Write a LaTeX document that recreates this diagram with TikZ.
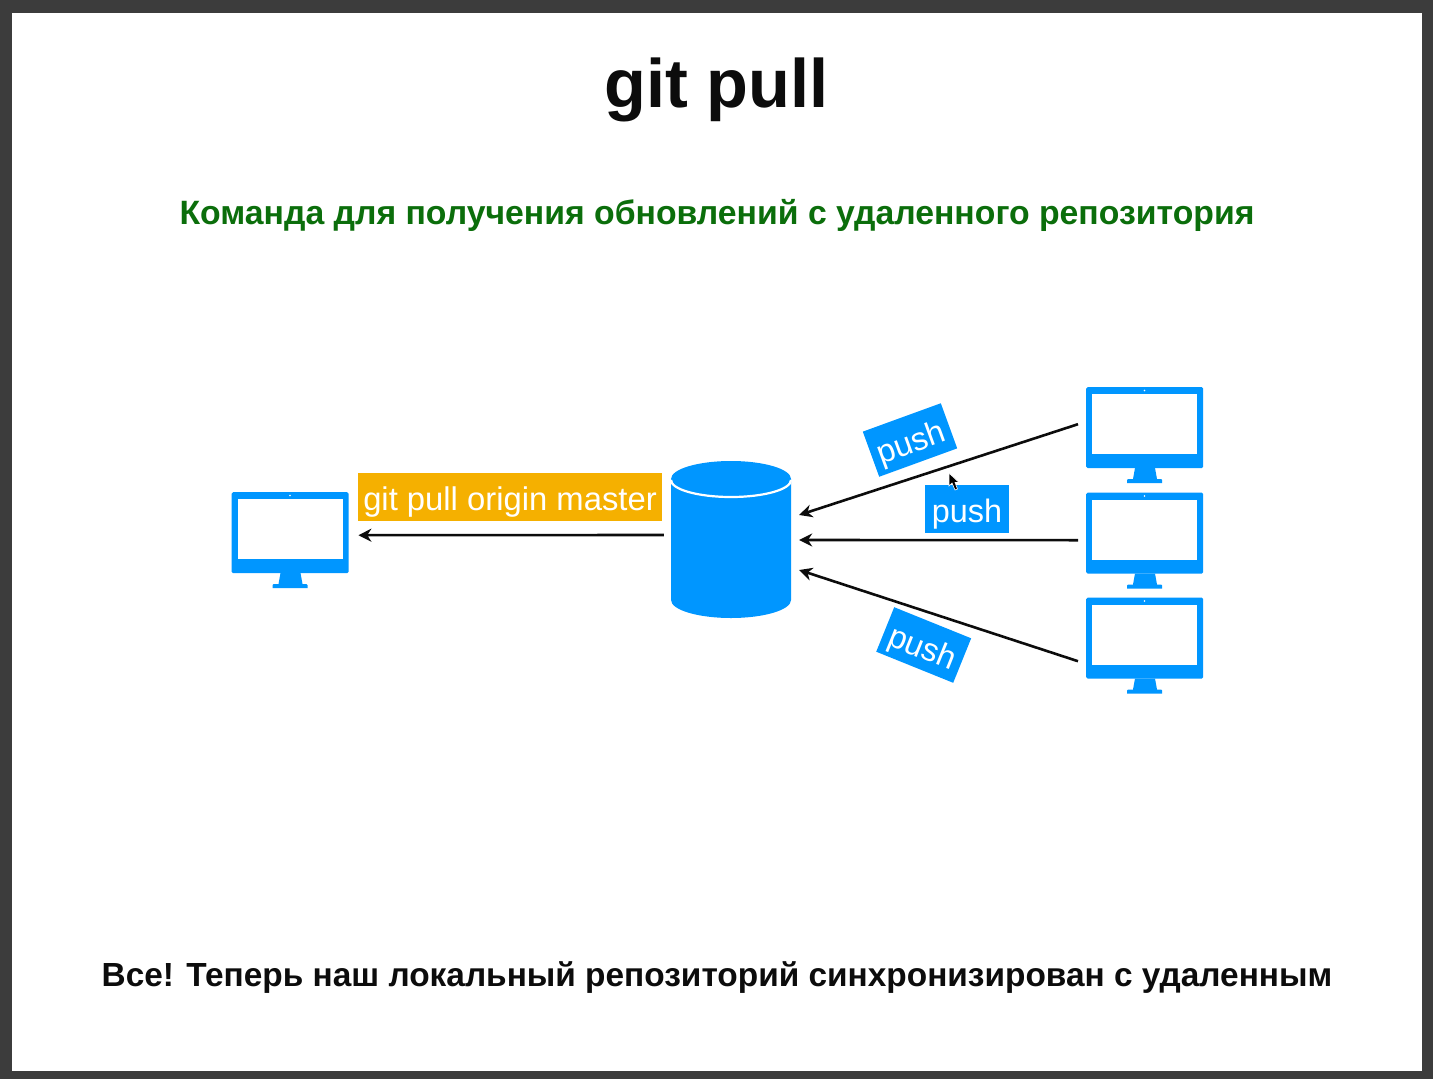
\documentclass[tikz,border=0pt]{standalone}
\usepackage{fontspec}
\setmainfont{Liberation Sans}
\usetikzlibrary{arrows.meta}
\definecolor{frame}{HTML}{3C3C3C}
\definecolor{macblue}{HTML}{0096FF}
\definecolor{banner}{HTML}{F5B000}
\definecolor{subgreen}{HTML}{0B6E0B}
\definecolor{ink}{HTML}{0C0C0C}
\tikzset{
  x=1pt,y=-1pt,
  tagbox/.style={fill=macblue,inner sep=0pt,minimum width=83pt,text height=37.5pt,text depth=10.5pt,text=white,font=\fontsize{32.4}{32.4}\selectfont},
  arr/.style={draw=ink,line width=2.6pt,-{Stealth[length=13pt,width=13pt]}},
  monitor/.pic={
    \node[fill=macblue,rounded corners=1.5pt,minimum width=117pt,minimum height=81pt,inner sep=0pt,anchor=north west] (body) at (0,0) {};
    \fill[white] (6,7) rectangle (111,67);
    \fill[white] (58.5,3.5) circle (0.9);
    \fill[macblue] (49,81) -- (69,81) -- (71,92) -- (75,92) -- (76,93) -- (76,96) -- (41,96) -- (41,93) -- (42,92) -- (47,92) -- cycle;
  }
}
\begin{document}
\begin{tikzpicture}
\useasboundingbox (0,0) rectangle (1433,1079);
\fill[frame] (0,0) rectangle (1433,1079);
\fill[white] (12,13) rectangle (1422,1071);

\node[inner sep=0pt,text=ink,font=\bfseries\fontsize{68.5}{68.5}\selectfont] (title) at (716.5,90) {git pull};
\node[inner sep=0pt,text=subgreen,font=\bfseries\fontsize{33.76}{33.76}\selectfont] (subtitle) at (717,215.5) {Команда для получения обновлений с удаленного репозитория};
\node[inner sep=0pt,text=ink,font=\bfseries\fontsize{33.4}{33.4}\selectfont] (footer) at (717,977.5) {Все! Теперь наш локальный репозиторий синхронизирован с удаленным};

\pic (ml) at (231.5,492) {monitor};
\pic (ma) at (1086,387) {monitor};
\pic (mb) at (1086,492.5) {monitor};
\pic (mc) at (1086,597.5) {monitor};

% database
\node[minimum width=120pt,minimum height=157pt,inner sep=0pt] (db) at (731,539.5) {};
\fill[macblue] (671,479) arc[x radius=60,y radius=18,start angle=180,end angle=360] -- (791,600) arc[x radius=60,y radius=18,start angle=0,end angle=180] -- cycle;
\draw[white,line width=2.2pt] (671,480) arc[x radius=60,y radius=17,start angle=180,end angle=0];

\node[fill=banner,inner sep=0pt,minimum width=304pt,text height=37pt,text depth=11pt,text=white,font=\fontsize{32.8}{32.8}\selectfont] (pull) at (510,497) {git pull origin master};

\node[tagbox,rotate=20] (p1) at (910,440) {push};
\node[tagbox,minimum width=83.5pt] (p2) at (967,508.5) {push};
\node[tagbox,rotate=-22] (p3) at (923.7,645) {push};

\draw[arr] ([shift={(-7,-4.5)}]db.west) -- ([shift={(9.5,2.5)}]mlbody.east);
\draw[arr] ([shift={(-8,-3.5)}]mabody.west) -- ([shift={(8,-24.5)}]db.east);
\draw[arr] ([shift={(-8,7)}]mbbody.west) -- ([shift={(8,0.5)}]db.east);
\draw[arr] ([shift={(-8,23)}]mcbody.west) -- ([shift={(8,30.5)}]db.east);

% mouse pointer
\fill[black,draw=white,line width=0.6pt] (949,473) -- (949,486) -- (952,483) -- (955,490) -- (957.5,489) -- (955,482.5) -- (959,482.5) -- cycle;
\end{tikzpicture}
\end{document}
